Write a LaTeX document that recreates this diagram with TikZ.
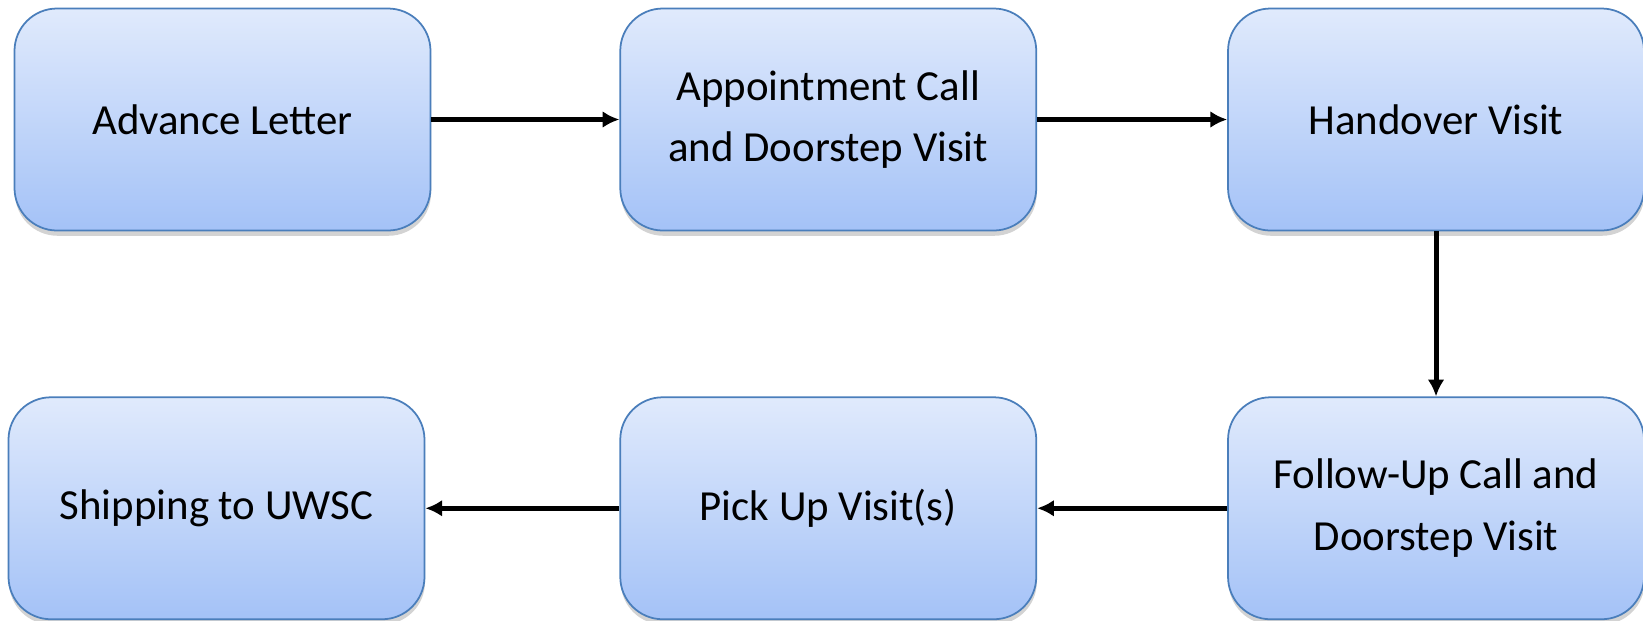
\documentclass[tikz,border=0pt]{standalone}
\usepackage{fontspec}
\setmainfont{Carlito}
\usepackage{tikz}
\usetikzlibrary{arrows.meta, positioning, shadows}

\definecolor{boxtop}{HTML}{E0EAFC}
\definecolor{boxbottom}{HTML}{A4C2F7}
\definecolor{boxline}{HTML}{4A7EBB}

\begin{document}
\begin{tikzpicture}[stage/.style={rectangle, rounded corners=0.85cm, draw=boxline, line width=1pt,
            top color=boxtop, bottom color=boxbottom, minimum width=8.32cm, minimum height=4.44cm,
            align=center, font=\fontsize{24.4}{35}\selectfont,
            drop shadow={shadow xshift=0.3pt, shadow yshift=-3pt, opacity=0.35}},
        flow/.style={-{Latex[length=9.5pt,width=9.5pt]}, line width=2.8pt},
        node distance=3.8cm and 3.8cm]
        \useasboundingbox (0,0) rectangle (32.86,-12.4);
        \node[stage] (letter) at (4.45,-2.39) {Advance Letter};
        \node[stage] (appt) [right = 3.76cm of letter] {Appointment Call\\and Doorstep Visit};
        \node[stage] (handover) [right = 3.8cm of appt] {Handover Visit};
        \node[stage] (followup) [below = 3.3cm of handover] {Follow-Up Call and\\Doorstep Visit};
        \node[stage] (pickup) [left = 3.8cm of followup] {Pick Up Visit(s)};
        \node[stage] (shipping) [left = 3.88cm of pickup] {Shipping to UWSC};

        \draw[flow] (letter) -- (appt);
        \draw[flow] (appt) -- (handover);
        \draw[flow] (handover) -- (followup);
        \draw[flow] (followup) -- (pickup);
        \draw[flow] (pickup) -- (shipping);
    \end{tikzpicture}
\end{document}
